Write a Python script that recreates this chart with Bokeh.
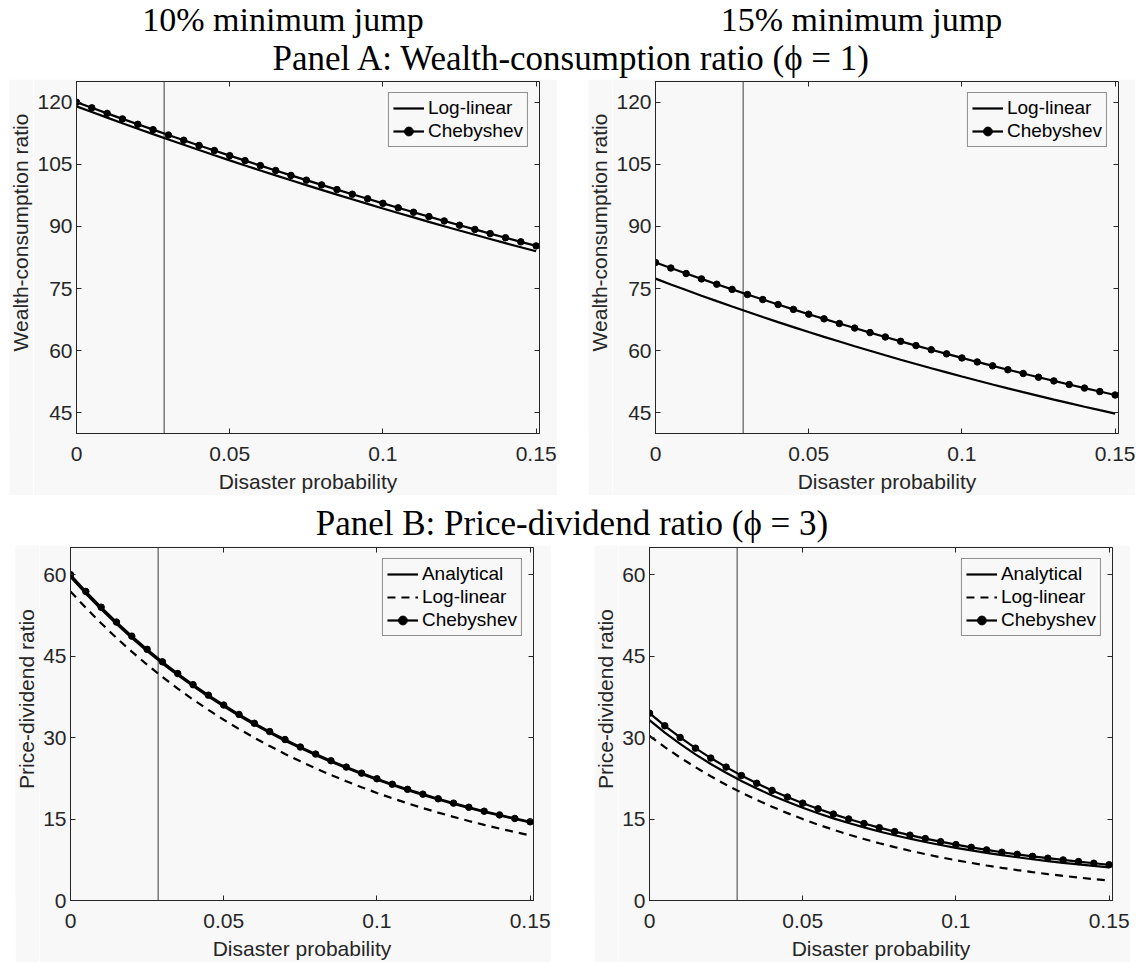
import math
from bokeh.plotting import figure
from bokeh.layouts import column, row, Spacer
from bokeh.models import Range1d, LinearAxis, FixedTicker, Span, Label
from bokeh.embed import file_html
from bokeh.resources import INLINE

# ---------------- data ----------------
prob = [0.0, 0.005, 0.01, 0.015, 0.02, 0.025, 0.03, 0.035, 0.04, 0.045, 0.05,
        0.055, 0.06, 0.065, 0.07, 0.075, 0.08, 0.085, 0.09, 0.095, 0.1,
        0.105, 0.11, 0.115, 0.12, 0.125, 0.13, 0.135, 0.14, 0.145, 0.15]

# Panel A, 10% minimum jump (wealth-consumption ratio)
wc10_loglinear = [119.00, 117.63, 116.27, 114.93, 113.60, 112.29, 110.99, 109.71, 108.44, 107.19, 105.96,
                  104.73, 103.52, 102.33, 101.15, 99.98, 98.83, 97.68, 96.56, 95.44, 94.34,
                  93.25, 92.18, 91.11, 90.06, 89.02, 87.99, 86.98, 85.97, 84.98, 84.00]
wc10_cheb = [120.00, 118.64, 117.30, 115.97, 114.66, 113.37, 112.08, 110.82, 109.56, 108.32, 107.10,
             105.89, 104.69, 103.50, 102.33, 101.18, 100.03, 98.90, 97.78, 96.68, 95.58,
             94.50, 93.43, 92.38, 91.33, 90.30, 89.28, 88.27, 87.27, 86.28, 85.30]
# Panel A, 15% minimum jump
wc15_loglinear = [77.40, 76.00, 74.63, 73.28, 71.96, 70.66, 69.38, 68.13, 66.90, 65.69, 64.51,
                  63.34, 62.20, 61.07, 59.97, 58.89, 57.82, 56.78, 55.75, 54.75, 53.76,
                  52.79, 51.83, 50.90, 49.98, 49.08, 48.19, 47.32, 46.47, 45.63, 44.80]
wc15_cheb = [81.30, 79.96, 78.63, 77.33, 76.05, 74.80, 73.56, 72.34, 71.15, 69.97, 68.81,
             67.68, 66.56, 65.46, 64.37, 63.31, 62.26, 61.23, 60.22, 59.23, 58.25,
             57.28, 56.34, 55.40, 54.49, 53.59, 52.70, 51.83, 50.97, 50.13, 49.30]
# Panel B, 10% minimum jump (price-dividend ratio)
pd10_analytical = [59.58, 56.51, 53.63, 50.91, 48.34, 45.93, 43.64, 41.50, 39.46, 37.55, 35.74,
                   34.02, 32.40, 30.88, 29.43, 28.06, 26.77, 25.55, 24.39, 23.29, 22.25,
                   21.26, 20.33, 19.44, 18.60, 17.80, 17.05, 16.32, 15.65, 15.00, 14.39]
pd10_loglinear = [56.90, 53.89, 51.04, 48.36, 45.82, 43.42, 41.16, 39.02, 37.00, 35.09, 33.28,
                  31.58, 29.96, 28.43, 26.99, 25.62, 24.33, 23.11, 21.95, 20.85, 19.81,
                  18.83, 17.90, 17.01, 16.18, 15.39, 14.64, 13.92, 13.25, 12.61, 12.00]
pd10_cheb = [60.00, 56.91, 54.01, 51.27, 48.68, 46.25, 43.95, 41.79, 39.74, 37.81, 35.99,
             34.26, 32.63, 31.10, 29.64, 28.26, 26.96, 25.73, 24.56, 23.45, 22.41,
             21.41, 20.47, 19.58, 18.73, 17.93, 17.17, 16.44, 15.76, 15.11, 14.49]
# Panel B, 15% minimum jump
pd15_analytical = [33.20, 30.93, 28.83, 26.91, 25.14, 23.51, 22.01, 20.63, 19.35, 18.17, 17.07,
                   16.06, 15.13, 14.26, 13.46, 12.71, 12.02, 11.38, 10.78, 10.22, 9.70,
                   9.22, 8.77, 8.35, 7.96, 7.60, 7.25, 6.94, 6.64, 6.36, 6.10]
pd15_loglinear = [30.30, 28.24, 26.32, 24.54, 22.87, 21.31, 19.87, 18.52, 17.26, 16.09, 14.99,
                  13.98, 13.03, 12.14, 11.32, 10.55, 9.83, 9.16, 8.54, 7.96, 7.42,
                  6.92, 6.45, 6.01, 5.60, 5.22, 4.86, 4.53, 4.23, 3.94, 3.67]
pd15_cheb = [34.50, 32.17, 30.02, 28.05, 26.23, 24.56, 23.01, 21.58, 20.27, 19.05, 17.92,
             16.88, 15.91, 15.01, 14.18, 13.41, 12.69, 12.03, 11.40, 10.83, 10.29,
             9.79, 9.32, 8.88, 8.50, 8.13, 7.79, 7.47, 7.16, 6.86, 6.58]

vline_prob = 0.0286  # vertical reference line

x_ticks = [0, 0.05, 0.1, 0.15]
x_tick_labels = ["0", "0.05", "0.1", "0.15"]
x_limits = (0.0, 0.1511)
wc_ticks = [45, 60, 75, 90, 105, 120]
wc_limits = (40, 125)
pd_ticks = [0, 15, 30, 45, 60]
pd_limits = (0, 65)

column_titles = ["10% minimum jump", "15% minimum jump"]
panel_titles = ["Panel A: Wealth-consumption ratio (\u03d5 = 1)",
                "Panel B: Price-dividend ratio (\u03d5 = 3)"]
x_label = "Disaster probability"
wc_label = "Wealth-consumption ratio"
pd_label = "Price-dividend ratio"
legend_names = ["Analytical", "Log-linear", "Chebyshev"]

# ---------------- style ----------------
BG = "#f8f8f8"
AX = "#262626"
SANS = "Liberation Sans"
SERIF = "Liberation Serif"
LW = 2.2
FS = "21px"
STRIP = 24  # width of the strip holding each y-axis title


def style_axis(ax, ticks, labels):
    ax.ticker = FixedTicker(ticks=ticks)
    ax.major_label_overrides = {t: s for t, s in zip(ticks, labels)}
    ax.major_tick_in = 5
    ax.major_tick_out = 0
    ax.minor_tick_line_color = None
    ax.axis_line_color = AX
    ax.major_tick_line_color = AX
    ax.major_label_text_font = SANS
    ax.major_label_text_font_size = FS
    ax.major_label_text_color = AX


def mirror_axis(ticks):
    return LinearAxis(ticker=FixedTicker(ticks=ticks), major_label_text_font_size="1px",
                      major_label_text_color=None, major_label_standoff=0,
                      major_tick_in=5, major_tick_out=0,
                      minor_tick_line_color=None, axis_line_color=None,
                      major_tick_line_color=AX)


def ylabel_strip(height, text, frame_mid_from_bottom):
    s = figure(width=STRIP, height=height, x_range=Range1d(0, STRIP), y_range=Range1d(0, height),
               title=None, toolbar_location=None, output_backend="svg",
               x_axis_type=None, y_axis_type=None, min_border=0, outline_line_color=None,
               background_fill_color=BG, border_fill_color=BG)
    s.xgrid.visible = False
    s.ygrid.visible = False
    s.add_layout(Label(x=11, y=frame_mid_from_bottom, text=text, angle=math.pi / 2,
                       text_align="center", text_baseline="middle", text_font=SANS,
                       text_font_size=FS, text_color=AX))
    return s


def panel(width, height, borders, y_limits, y_ticks, series):
    L, R, T, B = borders
    p = figure(width=width, height=height, x_range=Range1d(*x_limits), y_range=Range1d(*y_limits),
               title=None, toolbar_location=None, output_backend="svg",
               min_border_left=L, min_border_right=R, min_border_top=T, min_border_bottom=B,
               background_fill_color=BG, border_fill_color=BG, outline_line_color=AX)
    p.xgrid.visible = False
    p.ygrid.visible = False
    p.add_layout(Span(location=vline_prob, dimension="height", line_color="#3c3c3c",
                      line_width=1, level="underlay"))
    for name, ys, dash, dots in series:
        p.line(prob, ys, line_color="black", line_width=LW, line_dash=dash, legend_label=name)
        if dots:
            p.scatter(prob, ys, size=6.5, color="black", legend_label=name)
    xa = p.xaxis[0]
    style_axis(xa, x_ticks, x_tick_labels)
    xa.major_label_standoff = 13
    xa.axis_label = x_label
    xa.axis_label_text_font = SANS
    xa.axis_label_text_font_size = FS
    xa.axis_label_text_font_style = "normal"
    xa.axis_label_text_color = AX
    xa.axis_label_standoff = 6
    ya = p.yaxis[0]
    style_axis(ya, y_ticks, [str(t) for t in y_ticks])
    ya.major_label_standoff = 4
    p.add_layout(mirror_axis(y_ticks), "right")
    p.add_layout(mirror_axis(x_ticks), "above")
    lg = p.legend[0]
    lg.location = "top_right"
    lg.margin = 11
    lg.padding = 4
    lg.spacing = 1
    lg.glyph_width = 31
    lg.glyph_height = 22
    lg.label_height = 22
    lg.label_standoff = 4
    lg.label_text_font = SANS
    lg.label_text_font_size = "19px"
    lg.label_text_color = "black"
    lg.border_line_color = AX
    lg.border_line_width = 1
    lg.background_fill_color = BG
    lg.background_fill_alpha = 1.0
    return p


def header(height, items):
    p = figure(width=1140, height=height, x_range=Range1d(0, 1140), y_range=Range1d(0, height),
               title=None, toolbar_location=None, output_backend="svg",
               x_axis_type=None, y_axis_type=None,
               min_border=0, outline_line_color=None, background_fill_color="white",
               border_fill_color="white")
    p.xgrid.visible = False
    p.ygrid.visible = False
    for text, x, y, fs in items:
        p.add_layout(Label(x=x, y=y, text=text, text_align="center", text_baseline="alphabetic",
                           text_font=SERIF, text_font_size=fs, text_color="black"))
    return p


head_a = header(79, [(column_titles[0], 282.5, 60, "34px"), (column_titles[1], 861, 60, "34px"),
                     (panel_titles[0], 571.5, 21, "35px")])
head_b = header(50, [(panel_titles[1], 571.5, 22, "35px")])

tl = panel(548 - STRIP, 416, (43, 18, 2, 61), wc_limits, wc_ticks,
           [(legend_names[1], wc10_loglinear, "solid", False),
            (legend_names[2], wc10_cheb, "solid", True)])
tr = panel(547 - STRIP, 416, (43, 17, 2, 61), wc_limits, wc_ticks,
           [(legend_names[1], wc15_loglinear, "solid", False),
            (legend_names[2], wc15_cheb, "solid", True)])
bl = panel(536 - STRIP, 417, (31, 18, 2, 61), pd_limits, pd_ticks,
           [(legend_names[0], pd10_analytical, "solid", False),
            (legend_names[1], pd10_loglinear, "8 6", False),
            (legend_names[2], pd10_cheb, "solid", True)])
br = panel(536 - STRIP, 417, (31, 18, 2, 61), pd_limits, pd_ticks,
           [(legend_names[0], pd15_analytical, "solid", False),
            (legend_names[1], pd15_loglinear, "8 6", False),
            (legend_names[2], pd15_cheb, "solid", True)])

layout = column(
    head_a,
    row(Spacer(width=9, height=416), ylabel_strip(416, wc_label, 237.5), tl,
        Spacer(width=31, height=416), ylabel_strip(416, wc_label, 237.5), tr),
    head_b,
    row(Spacer(width=15, height=417), ylabel_strip(417, pd_label, 238), bl,
        Spacer(width=43, height=417), ylabel_strip(417, pd_label, 238), br),
)

open("out.html", "w").write(file_html(layout, INLINE))
